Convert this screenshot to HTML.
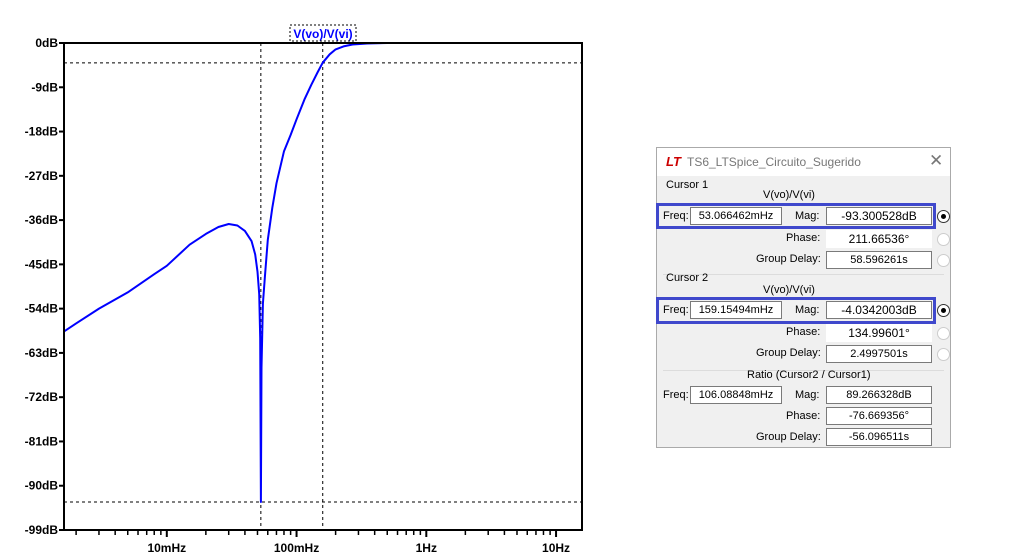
<!DOCTYPE html>
<html><head><meta charset="utf-8"><style>
body{margin:0;width:1009px;height:559px;background:#fff;position:relative;overflow:hidden;font-family:"Liberation Sans",sans-serif}
#dlg{position:absolute;left:656px;top:147px;width:295px;height:301px;background:#f0f0f0;border:1px solid #aaa;box-sizing:border-box}
.a{position:absolute;font-size:11px;color:#000;white-space:nowrap}
.f{position:absolute;background:#fff;border:1px solid #7a7a7a;box-sizing:border-box;font-size:11px;text-align:center;line-height:16px;height:18px}
.bx{position:absolute;border:3px solid #3f48cc;box-sizing:border-box}
.rd{position:absolute;width:11px;height:11px;border:1px solid #ccc;border-radius:50%;background:#fff}
.rd.on{border-color:#333}
.rd.on:after{content:"";position:absolute;left:3px;top:3px;width:5px;height:5px;border-radius:50%;background:#000}
.sep{position:absolute;left:6px;right:6px;height:1px;background:#dcdcdc}
</style></head><body>
<svg id="chart" width="600" height="559" style="position:absolute;left:0;top:0" font-family="Liberation Sans, sans-serif"></svg>
<div id="dlg">
 <div style="position:absolute;left:0;top:0;right:0;height:28px;background:#fff"></div>
 <div class="a" style="left:9px;top:6px;font-size:13px;color:#c00;font-weight:bold;font-style:italic">LT</div>
 <div class="a" style="left:30px;top:7px;font-size:12px;color:#777">TS6_LTSpice_Circuito_Sugerido</div>
 <div class="a" style="left:272px;top:3px;font-size:17px;color:#777">✕</div>
 <div class="a" style="left:9px;top:31px">Cursor 1</div>
 <div class="a" style="left:106px;top:41px">V(vo)/V(vi)</div>
 <div class="bx" style="left:-1px;top:55px;width:280px;height:26px"></div>
 <div class="a" style="left:6px;top:62px">Freq:</div>
 <div class="f" style="left:33px;top:59px;width:92px">53.066462mHz</div>
 <div class="a" style="left:138px;top:62px">Mag:</div>
 <div class="f" style="left:169px;top:59px;width:106px;font-size:12px">-93.300528dB</div>
 <div class="rd on" style="left:280px;top:62px"></div>
 <div class="a" style="left:129px;top:84px">Phase:</div>
 <div class="f" style="left:169px;top:82px;width:106px;border-color:#fff;font-size:12px">211.66536°</div>
 <div class="rd" style="left:280px;top:85px"></div>
 <div class="a" style="left:99px;top:105px">Group Delay:</div>
 <div class="f" style="left:169px;top:103px;width:106px">58.596261s</div>
 <div class="rd" style="left:280px;top:106px"></div>
 <div class="sep" style="top:126px"></div>
 <div class="a" style="left:9px;top:124px">Cursor 2</div>
 <div class="a" style="left:106px;top:136px">V(vo)/V(vi)</div>
 <div class="bx" style="left:-1px;top:149px;width:280px;height:27px"></div>
 <div class="a" style="left:6px;top:156px">Freq:</div>
 <div class="f" style="left:33px;top:153px;width:92px">159.15494mHz</div>
 <div class="a" style="left:138px;top:156px">Mag:</div>
 <div class="f" style="left:169px;top:153px;width:106px;font-size:12px">-4.0342003dB</div>
 <div class="rd on" style="left:280px;top:156px"></div>
 <div class="a" style="left:129px;top:178px">Phase:</div>
 <div class="f" style="left:169px;top:176px;width:106px;border-color:#fff;font-size:12px">134.99601°</div>
 <div class="rd" style="left:280px;top:179px"></div>
 <div class="a" style="left:99px;top:199px">Group Delay:</div>
 <div class="f" style="left:169px;top:197px;width:106px">2.4997501s</div>
 <div class="rd" style="left:280px;top:200px"></div>
 <div class="sep" style="top:222px"></div>
 <div class="a" style="left:90px;top:221px">Ratio (Cursor2 / Cursor1)</div>
 <div class="a" style="left:6px;top:241px">Freq:</div>
 <div class="f" style="left:33px;top:238px;width:92px">106.08848mHz</div>
 <div class="a" style="left:138px;top:241px">Mag:</div>
 <div class="f" style="left:169px;top:238px;width:106px">89.266328dB</div>
 <div class="a" style="left:129px;top:262px">Phase:</div>
 <div class="f" style="left:169px;top:259px;width:106px">-76.669356°</div>
 <div class="a" style="left:99px;top:283px">Group Delay:</div>
 <div class="f" style="left:169px;top:280px;width:106px">-56.096511s</div>
</div>
<script>
const freqs=[0.0016,0.002,0.003,0.005,0.008,0.010,0.015,0.020,0.025,0.030,0.035,0.040,0.045,0.048,0.050,0.0515,0.0525,0.05307,0.0537,0.055,0.057,0.060,0.065,0.070,0.080,0.090,0.100,0.115,0.130,0.145,0.159,0.180,0.200,0.230,0.270,0.350,0.500,1,16];
const mags=[-58.7,-57,-54,-50.7,-47,-45.3,-41.0,-38.8,-37.4,-36.8,-37.1,-38.2,-40.3,-43,-46.5,-51,-60,-93.3,-66,-53,-47.5,-40,-33.5,-28.5,-22,-18.7,-15.5,-11.5,-8.5,-6,-4.0,-2.3,-1.3,-0.7,-0.3,-0.1,0,0,0];
const yTicks=[0,-9,-18,-27,-36,-45,-54,-63,-72,-81,-90,-99];
const xDecades=[0.01,0.1,1,10];
const xLabels=["10mHz","100mHz","1Hz","10Hz"];
const cursorFreqs=[0.053066462,0.15915494];
const cursorMags=[-93.300528,-4.0342003];

const NS="http://www.w3.org/2000/svg";
const svg=document.getElementById('chart');
const L=64,R=582,T=43,B=530;
const fMin=Math.pow(10,-2-(167-L)/130),fMax=Math.pow(10,1+(R-556)/130);
const X=f=>L+(Math.log10(f)-Math.log10(fMin))/(Math.log10(fMax)-Math.log10(fMin))*(R-L);
const Y=d=>T+(0-d)/99*(B-T);
function mk(t,a,p){const e=document.createElementNS(NS,t);for(const k in a)e.setAttribute(k,a[k]);(p||svg).appendChild(e);return e;}
cursorFreqs.forEach((f,i)=>{
 const v=mk('line',{x1:X(f),x2:X(f),y1:T,y2:B,stroke:'#000','stroke-dasharray':'3,3'});
 
 
 const h=mk('line',{x1:L,x2:R,y1:Y(cursorMags[i]),y2:Y(cursorMags[i]),stroke:'#000','stroke-dasharray':'3,3'});
 
 
});
const pts=freqs.map((f,i)=>X(f).toFixed(1)+','+Y(mags[i]).toFixed(1)).join(' ');
const cv=mk('polyline',{points:pts,fill:'none',stroke:'#0000ff','stroke-width':2,'stroke-linejoin':'round'});


const fr=mk('rect',{x:L,y:T,width:R-L,height:B-T,fill:'none',stroke:'#000','stroke-width':2});


yTicks.forEach(d=>{
 mk('line',{x1:L-5,x2:L,y1:Y(d),y2:Y(d),stroke:'#000','stroke-width':2});
 const t=mk('text',{x:L-6,y:Y(d)+4,'text-anchor':'end','font-size':12,'font-weight':'bold'});
 t.textContent=d+'dB';
 
 
});
for(let e=-3;e<=1;e++)for(let m=1;m<=9;m++){
 const f=m*Math.pow(10,e);if(f<fMin||f>fMax)continue;
 mk('line',{x1:X(f),x2:X(f),y1:B,y2:B+(m==1?7:5),stroke:'#000','stroke-width':m==1?2:1.5});
}
xDecades.forEach((f,i)=>{
 const t=mk('text',{x:X(f),y:B+22,'text-anchor':'middle','font-size':12,'font-weight':'bold'});
 t.textContent=xLabels[i];
 
 
});
mk('rect',{x:290,y:25,width:66,height:16,fill:'none',stroke:'#000','stroke-dasharray':'2,2'});
const tl=mk('text',{x:323,y:38,'text-anchor':'middle','font-size':12,'font-weight':'bold',fill:'#0000ff'});
tl.textContent='V(vo)/V(vi)';


</script>
</body></html>
